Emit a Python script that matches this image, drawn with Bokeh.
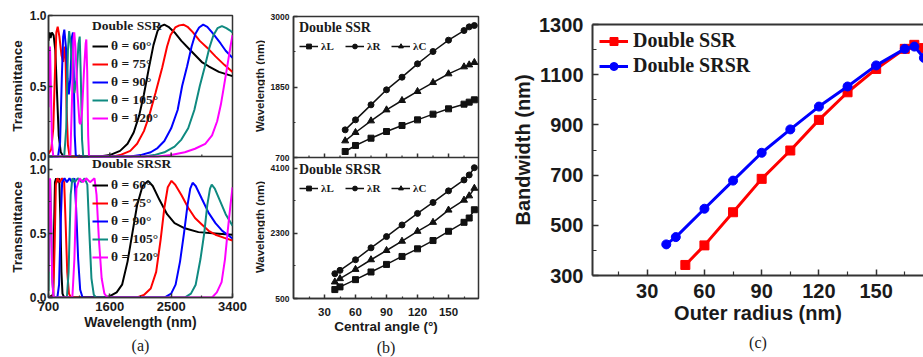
import math
from bokeh.plotting import figure
from bokeh.models import (FixedTicker, Legend, LegendItem, Title, LinearAxis, Range1d, Span)
from bokeh.core.properties import value
from bokeh.layouts import row
from bokeh.embed import file_html
from bokeh.resources import INLINE

# ---------------- data: panel (a) transmittance spectra ----------------
angles = ["60", "75", "90", "105", "120"]
colors = ["#000000", "#ff0000", "#0000ff", "#0f8a80", "#ff00ff"]

ssr60_wl = [700, 715, 730, 750, 775, 800, 825, 850, 880, 920, 1450, 1600, 1750, 1860, 1950, 2030, 2100, 2170, 2240, 2300, 2350, 2400, 2460, 2550, 2650, 2750, 2850, 2950, 3050, 3200, 3400]
ssr60_t = [0.82, 0.88, 0.84, 0.88, 0.86, 0.75, 0.45, 0.15, 0.03, 0.0, 0.0, 0.01, 0.04, 0.09, 0.17, 0.29, 0.44, 0.62, 0.79, 0.89, 0.925, 0.935, 0.92, 0.88, 0.82, 0.77, 0.72, 0.67, 0.64, 0.6, 0.57]
ssr75_wl = [700, 740, 770, 795, 815, 835, 860, 890, 915, 935, 950, 965, 985, 1010, 1650, 1750, 1900, 2000, 2100, 2172, 2270, 2368, 2440, 2490, 2560, 2620, 2680, 2740, 2820, 2920, 3032, 3150, 3280, 3400]
ssr75_t = [0.02, 0.05, 0.2, 0.6, 0.88, 0.92, 0.85, 0.72, 0.67, 0.78, 0.7, 0.35, 0.08, 0.0, 0.0, 0.01, 0.04, 0.09, 0.18, 0.28, 0.45, 0.63, 0.78, 0.86, 0.915, 0.93, 0.935, 0.92, 0.88, 0.82, 0.77, 0.71, 0.65, 0.6]
ssr90_wl = [700, 840, 870, 895, 915, 932, 955, 980, 998, 1020, 1045, 1058, 1070, 1085, 1100, 1130, 1900, 2050, 2200, 2300, 2400, 2500, 2595, 2661, 2734, 2800, 2856, 2910, 2970, 3030, 3100, 3180, 3228, 3300, 3400]
ssr90_t = [0.0, 0.0, 0.1, 0.55, 0.85, 0.9, 0.78, 0.55, 0.44, 0.55, 0.85, 0.88, 0.6, 0.15, 0.01, 0.0, 0.0, 0.01, 0.03, 0.06, 0.11, 0.2, 0.33, 0.5, 0.64, 0.78, 0.87, 0.915, 0.935, 0.92, 0.88, 0.83, 0.8, 0.75, 0.7]
ssr105_wl = [700, 930, 960, 985, 1003, 1025, 1055, 1080, 1110, 1140, 1158, 1175, 1192, 1210, 2100, 2250, 2400, 2550, 2650, 2750, 2840, 2920, 2990, 3060, 3120, 3180, 3245, 3310, 3360, 3400]
ssr105_t = [0.0, 0.0, 0.2, 0.75, 0.89, 0.8, 0.55, 0.45, 0.55, 0.8, 0.85, 0.55, 0.12, 0.0, 0.0, 0.01, 0.03, 0.07, 0.12, 0.2, 0.33, 0.5, 0.63, 0.77, 0.86, 0.91, 0.925, 0.91, 0.895, 0.88]
ssr120_wl = [700, 712, 722, 735, 750, 770, 1020, 1045, 1065, 1078, 1095, 1125, 1155, 1170, 1190, 1220, 1245, 1255, 1268, 1282, 1295, 2300, 2500, 2700, 2850, 3000, 3100, 3175, 3230, 3272, 3320, 3370, 3400]
ssr120_t = [0.35, 0.72, 0.78, 0.5, 0.1, 0.0, 0.0, 0.4, 0.82, 0.88, 0.78, 0.45, 0.24, 0.23, 0.3, 0.6, 0.8, 0.83, 0.6, 0.15, 0.0, 0.0, 0.01, 0.03, 0.055, 0.09, 0.15, 0.25, 0.37, 0.49, 0.63, 0.78, 0.86]

srsr60_wl = [700, 765, 780, 795, 812, 835, 858, 875, 890, 905, 930, 1500, 1600, 1700, 1780, 1860, 1930, 2000, 2080, 2160, 2230, 2330, 2440, 2550, 2700, 2900, 3150, 3400]
srsr60_t = [0.0, 0.02, 0.5, 0.9, 0.93, 0.9, 0.93, 0.6, 0.2, 0.03, 0.0, 0.0, 0.01, 0.04, 0.1, 0.28, 0.5, 0.72, 0.87, 0.91, 0.87, 0.76, 0.65, 0.58, 0.54, 0.51, 0.5, 0.49]
srsr75_wl = [700, 770, 790, 808, 830, 865, 900, 930, 950, 975, 1000, 1030, 2000, 2100, 2200, 2280, 2345, 2400, 2450, 2505, 2560, 2650, 2750, 2850, 2950, 3050, 3150, 3280, 3400]
srsr75_t = [0.0, 0.01, 0.4, 0.88, 0.93, 0.9, 0.93, 0.9, 0.6, 0.2, 0.03, 0.0, 0.0, 0.02, 0.07, 0.2, 0.45, 0.7, 0.86, 0.91, 0.88, 0.8, 0.7, 0.62, 0.57, 0.52, 0.49, 0.465, 0.445]
srsr90_wl = [700, 830, 855, 880, 900, 935, 970, 1008, 1045, 1081, 1105, 1135, 1165, 1200, 2400, 2500, 2565, 2630, 2688, 2740, 2780, 2815, 2860, 2950, 3050, 3150, 3250, 3400]
srsr90_t = [0.0, 0.0, 0.1, 0.6, 0.9, 0.93, 0.9, 0.93, 0.9, 0.93, 0.7, 0.3, 0.06, 0.0, 0.0, 0.03, 0.1, 0.28, 0.5, 0.72, 0.85, 0.895, 0.87, 0.77, 0.66, 0.58, 0.52, 0.46]
srsr105_wl = [700, 713, 725, 740, 755, 775, 970, 995, 1025, 1050, 1085, 1130, 1183, 1230, 1270, 1300, 1330, 1365, 1400, 2700, 2790, 2860, 2930, 2985, 3030, 3070, 3095, 3140, 3220, 3300, 3400]
srsr105_t = [0.05, 0.6, 0.92, 0.6, 0.15, 0.0, 0.0, 0.2, 0.8, 0.93, 0.9, 0.93, 0.9, 0.93, 0.88, 0.5, 0.15, 0.02, 0.0, 0.0, 0.03, 0.1, 0.3, 0.5, 0.72, 0.85, 0.88, 0.85, 0.75, 0.65, 0.56]
srsr120_wl = [700, 710, 722, 738, 755, 775, 1050, 1080, 1110, 1157, 1205, 1253, 1310, 1375, 1405, 1440, 1480, 1520, 1565, 3100, 3170, 3240, 3290, 3330, 3370, 3400]
srsr120_t = [0.2, 0.85, 0.93, 0.6, 0.12, 0.0, 0.0, 0.3, 0.85, 0.93, 0.9, 0.93, 0.9, 0.93, 0.8, 0.45, 0.15, 0.03, 0.0, 0.0, 0.04, 0.12, 0.3, 0.52, 0.72, 0.86]

ssr_curves = [(ssr60_wl, ssr60_t), (ssr75_wl, ssr75_t), (ssr90_wl, ssr90_t), (ssr105_wl, ssr105_t), (ssr120_wl, ssr120_t)]
srsr_curves = [(srsr60_wl, srsr60_t), (srsr75_wl, srsr75_t), (srsr90_wl, srsr90_t), (srsr105_wl, srsr105_t), (srsr120_wl, srsr120_t)]

a_xticks = [700, 1600, 2500, 3400]
a_xminor = [1150, 2050, 2950]
a_yticks = [0.0, 0.5, 1.0]
a_yminor = [0.25, 0.75]
a_top_range = (0.0, 1.0)
a_bot_range = (0.0, 1.1)

# ---------------- data: panel (b) wavelengths vs central angle ----------------
b_ssr_angle = [50, 60, 75, 90, 105, 120, 135, 150, 165, 170, 175]
b_ssr_lr = [1151, 1314, 1559, 1804, 2010, 2228, 2429, 2614, 2771, 2831, 2853]
b_ssr_lc = [972, 1108, 1298, 1477, 1630, 1777, 1923, 2065, 2179, 2211, 2250]
b_ssr_ll = [798, 896, 1015, 1124, 1222, 1314, 1407, 1494, 1570, 1603, 1641]

b_srsr_angle = [40, 45, 60, 75, 90, 105, 120, 135, 150, 165, 170, 175]
b_srsr_lr = [1187, 1279, 1572, 1901, 2213, 2534, 2854, 3156, 3477, 3779, 3917, 4118]
b_srsr_lc = [958, 1050, 1306, 1572, 1828, 2085, 2359, 2607, 2946, 3220, 3340, 3550]
b_srsr_ll = [747, 821, 1022, 1233, 1443, 1663, 1874, 2103, 2359, 2607, 2726, 2955]

b_labels = ["\u03bbL", "\u03bbR", "\u03bbC"]
b_xticks = [30, 60, 90, 120, 150]
b_xminor = [15, 45, 75, 105, 135, 165]
b_top_yticks = [700, 1850, 3000]
b_top_yminor = [1275, 2425]
b_bot_yticks = [500, 2300, 4100]
b_bot_yminor = [1400, 3200]
b_top_range = (700, 3000)
b_bot_range = (500, 4400)

# ---------------- data: panel (c) bandwidth vs outer radius ----------------
c_ssr_r = [50, 60, 75, 90, 105, 120, 135, 150, 165, 170, 175]
c_ssr_bw = [342, 420, 552, 685, 798, 920, 1030, 1123, 1203, 1219, 1206]
c_srsr_r = [40, 45, 60, 75, 90, 105, 120, 135, 150, 165, 170, 175]
c_srsr_bw = [424, 453, 566, 678, 789, 882, 973, 1053, 1137, 1203, 1212, 1167]
c_xticks = [30, 60, 90, 120, 150]
c_xminor = [15, 45, 75, 105, 135, 165]
c_yticks = [300, 500, 700, 900, 1100, 1300]
c_yminor = [400, 600, 800, 1000, 1200]

# ---------------- styling helpers ----------------
SANS = "Liberation Sans"
SERIF = "Liberation Serif"
AXC = "#333333"
TXT = "#1a1a1a"
FRAME_H = 282   # shared frame height of the stacked panels (a) and (b)


def base_fig(w, h, xr, yr, bl, br, bt, bb, outline=True, axes=True):
    kw = {} if axes else {"x_axis_location": None, "y_axis_location": None}
    p = figure(width=w, height=h, x_range=xr if isinstance(xr, Range1d) else Range1d(*xr),
               y_range=yr if isinstance(yr, Range1d) else Range1d(*yr),
               output_backend="svg", toolbar_location=None,
               min_border_left=bl, min_border_right=br, min_border_top=bt, min_border_bottom=bb, **kw)
    p.frame_align = False
    p.grid.visible = False
    p.background_fill_color = "white"
    p.border_fill_color = "white"
    if outline:
        p.outline_line_color = AXC
        p.outline_line_width = 1.5
        p.outline_line_alpha = 1.0
    else:
        p.outline_line_color = None
    return p


def style_axis(ax, ticks, minor, tick_px, label_px="12px", standoff=3, label_standoff=3):
    ax.ticker = FixedTicker(ticks=ticks, minor_ticks=minor)
    ax.axis_line_color = AXC
    ax.axis_line_width = 1.5
    ax.major_tick_line_color = AXC
    ax.major_tick_line_width = 1.5
    ax.minor_tick_line_color = AXC
    ax.minor_tick_line_width = 1.2
    ax.major_tick_in = 4
    ax.major_tick_out = 0
    ax.minor_tick_in = 2
    ax.minor_tick_out = 0
    ax.major_label_text_font = SANS
    ax.major_label_text_font_style = "bold"
    ax.major_label_text_color = TXT
    ax.major_label_text_font_size = tick_px
    ax.major_label_standoff = standoff
    ax.axis_label_text_font = SANS
    ax.axis_label_text_font_style = "bold"
    ax.axis_label_text_color = TXT
    ax.axis_label_text_font_size = label_px
    ax.axis_label_standoff = label_standoff


def stacked(top_rng, bot_rng):
    """Upper panel values are mapped onto the upper half of a shared frame."""
    b0, b1 = bot_rng
    t0, t1 = top_rng
    span = b1 - b0

    def up(v):
        return b1 + (v - t0) / (t1 - t0) * span

    return up, (b0, b1 + span), (t0 - (t1 - t0), t1)


def stacked_ticks(up, top_ticks, bot_ticks, top_minor, bot_minor, fmt):
    ticks = list(bot_ticks) + [up(v) for v in top_ticks]
    minor = list(bot_minor) + [up(v) for v in top_minor]
    labels = [fmt(v) for v in bot_ticks] + [fmt(v) for v in top_ticks]
    return ticks, minor, {t: s for t, s in zip(ticks, labels)}


def mid_ticks(p, topfull, ticks, minor):
    """Inward x ticks on the upper panel's lower edge (the separator line)."""
    per_px = (topfull[1] - topfull[0]) / FRAME_H
    y0 = topfull[0] + (topfull[1] - topfull[0]) / 2
    for xs, ln, lw in ((ticks, 4, 1.5), (minor, 2, 1.2)):
        p.segment(x0=xs, y0=[y0] * len(xs), x1=xs, y1=[y0 + ln * per_px] * len(xs),
                  line_color=AXC, line_width=lw, y_range_name="top")


def legend(items, title, loc, orient, lab_px, tit_px, gw, gh, spacing, tstand):
    return Legend(items=items, title=title, location=loc, orientation=orient,
                  label_text_font=SERIF, label_text_font_style="bold", label_text_font_size=lab_px,
                  label_text_color=TXT, title_text_font=SERIF, title_text_font_style="bold",
                  title_text_font_size=tit_px, title_text_color=TXT, title_standoff=tstand,
                  glyph_width=gw, glyph_height=gh, label_height=gh, label_standoff=3, spacing=spacing,
                  padding=0, margin=0, background_fill_alpha=0, border_line_color=None)


def side_label(width, yr, xpos, ys, text, size):
    q = base_fig(width, 357, (0, width), yr, 0, 0, 15, 60, outline=False, axes=False)
    q.text(x=[xpos] * len(ys), y=ys, text=[text] * len(ys), angle=math.pi / 2,
           text_align="center", text_baseline="middle", text_font=value(SANS),
           text_font_style="bold", text_font_size=value(size), text_color=TXT)
    return q


# ---------------- panel (a): one frame, two stacked spectra panels ----------------
up_a, a_full, a_topfull = stacked(a_top_range, a_bot_range)
ta, tma, ova = stacked_ticks(up_a, a_yticks, a_yticks, a_yminor, a_yminor, lambda v: "%.1f" % v)
pa = base_fig(227, 357, (700, 3400), a_full, 24, 19, 15, 60)
pa.extra_y_ranges = {"top": Range1d(*a_topfull)}
itemsT, itemsB = [], []
for (wl, t), col, ang in zip(ssr_curves, colors, angles):
    r = pa.line(wl, t, line_color=col, line_width=2, y_range_name="top")
    itemsT.append(LegendItem(label="\u03b8 = " + ang + "\u00b0", renderers=[r]))
for (wl, t), col, ang in zip(srsr_curves, colors, angles):
    r = pa.line(wl, t, line_color=col, line_width=2)
    itemsB.append(LegendItem(label="\u03b8 = " + ang + "\u00b0", renderers=[r]))
pa.add_layout(Span(location=a_bot_range[1], dimension="width", line_color=AXC, line_width=1.5))
mid_ticks(pa, a_topfull, a_xticks[1:-1], a_xminor)
style_axis(pa.xaxis[0], a_xticks, a_xminor, "13px", "14px", standoff=4, label_standoff=0)
style_axis(pa.yaxis[0], ta, tma, "12px", standoff=2)
pa.yaxis[0].major_label_overrides = ova
pa.xaxis[0].axis_label = "Wavelength (nm)"
pa.add_layout(legend(itemsT, "Double SSR", (44, 171), "vertical", "13.5px", "13.5px", 16, 14, 2, 4))
pa.add_layout(legend(itemsB, "Double SRSR", (44, 32), "vertical", "13.5px", "13.5px", 16, 14, 2, 5))
pa.add_layout(Title(text="(a)", align="center", text_font=SERIF, text_font_size="16px",
                    text_font_style="normal", text_color=TXT, standoff=4), "below")
lab_a = side_label(24, pa.y_range, 17,
                   [sum(a_bot_range) / 2, up_a(sum(a_top_range) / 2)], "Transmittance", "13.5px")

# ---------------- panel (b): one frame, two stacked panels ----------------
up_b, b_full, b_topfull = stacked(b_top_range, b_bot_range)
tb, tmb, ovb = stacked_ticks(up_b, b_top_yticks, b_bot_yticks, b_top_yminor, b_bot_yminor,
                             lambda v: "%d" % v)
pb = base_fig(238, 357, (0, 179), b_full, 28, 25, 16, 59)
pb.extra_y_ranges = {"top": Range1d(*b_topfull)}


def b_series(p, ang, ll, lr, lc, rng):
    kw = {"y_range_name": rng} if rng else {}
    items = []
    specs = [(ll, "square", 6), (lr, "circle", 6), (lc, "triangle", 7)]
    for (vals, mk, sz), lab in zip(specs, b_labels):
        rl = p.line(ang, vals, line_color="#111111", line_width=1.5, **kw)
        rs = p.scatter(ang, vals, marker=mk, size=sz, fill_color="#111111", line_color="#111111", **kw)
        items.append(LegendItem(label=lab, renderers=[rl, rs]))
    return items


itT = b_series(pb, b_ssr_angle, b_ssr_ll, b_ssr_lr, b_ssr_lc, "top")
itB = b_series(pb, b_srsr_angle, b_srsr_ll, b_srsr_lr, b_srsr_lc, None)
pb.add_layout(Span(location=b_bot_range[1], dimension="width", line_color=AXC, line_width=1.5))
mid_ticks(pb, b_topfull, b_xticks, b_xminor)
style_axis(pb.xaxis[0], b_xticks, b_xminor, "11.5px", "13.5px", standoff=9, label_standoff=0)
style_axis(pb.yaxis[0], tb, tmb, "8.5px", standoff=4)
pb.yaxis[0].major_label_overrides = ovb
pb.xaxis[0].axis_label = "Central angle (\u00b0)"
pb.add_layout(legend(itT, "Double SSR", (6, 246), "horizontal", "11px", "14px", 19, 12, 4, 4))
pb.add_layout(legend(itB, "Double SRSR", (6, 104), "horizontal", "11px", "14px", 19, 12, 4, 4))
pb.add_layout(Title(text="(b)", align="center", text_font=SERIF, text_font_size="16px",
                    text_font_style="normal", text_color=TXT, standoff=1), "below")
lab_b = side_label(14, pb.y_range, 8.5,
                   [sum(b_bot_range) / 2, up_b(sum(b_top_range) / 2)], "Wavelength (nm)", "11.5px")

# ---------------- panel (c) ----------------
pc = base_fig(420, 357, (1.34, 174.8), (300, 1300), 89, 0, 24, 82, outline=False)
r1l = pc.line(c_ssr_r, c_ssr_bw, line_color="#ff0000", line_width=3)
r1s = pc.scatter(c_ssr_r, c_ssr_bw, marker="square", size=9, fill_color="#ff0000", line_color="#ff0000")
r2l = pc.line(c_srsr_r, c_srsr_bw, line_color="#0000ff", line_width=3)
r2s = pc.scatter(c_srsr_r, c_srsr_bw, marker="circle", size=9, fill_color="#0000ff", line_color="#0000ff")
style_axis(pc.xaxis[0], c_xticks, c_xminor, "20px", "20px", standoff=8, label_standoff=1)
style_axis(pc.yaxis[0], c_yticks, c_yminor, "20px", "20px", standoff=9, label_standoff=2)
for ax in (pc.xaxis[0], pc.yaxis[0]):
    ax.axis_line_width = 2
    ax.major_tick_in = 6
    ax.minor_tick_in = 4
pc.xaxis[0].axis_label = "Outer radius (nm)"
pc.yaxis[0].axis_label = "Bandwidth (nm)"
top_ax = LinearAxis(ticker=FixedTicker(ticks=[]), major_tick_in=0, major_tick_out=0,
                    minor_tick_in=0, minor_tick_out=0, axis_line_color=AXC, axis_line_width=2)
pc.add_layout(top_ax, "above")
legc = Legend(items=[LegendItem(label="Double SSR", renderers=[r1l, r1s]),
                     LegendItem(label="Double SRSR", renderers=[r2l, r2s])],
              location=(7, 198), orientation="vertical",
              label_text_font=SERIF, label_text_font_style="bold", label_text_font_size="20px",
              label_text_color=TXT, glyph_width=29, glyph_height=20, label_height=20,
              label_standoff=5, spacing=2, padding=0, margin=0,
              background_fill_alpha=0, border_line_color=None)
pc.add_layout(legc)
pc.add_layout(Title(text="(c)", align="center", text_font=SERIF, text_font_size="16px",
                    text_font_style="normal", text_color=TXT, standoff=10), "below")

layout = row(lab_a, pa, lab_b, pb, pc)
open("out.html", "w").write(file_html(layout, INLINE))
